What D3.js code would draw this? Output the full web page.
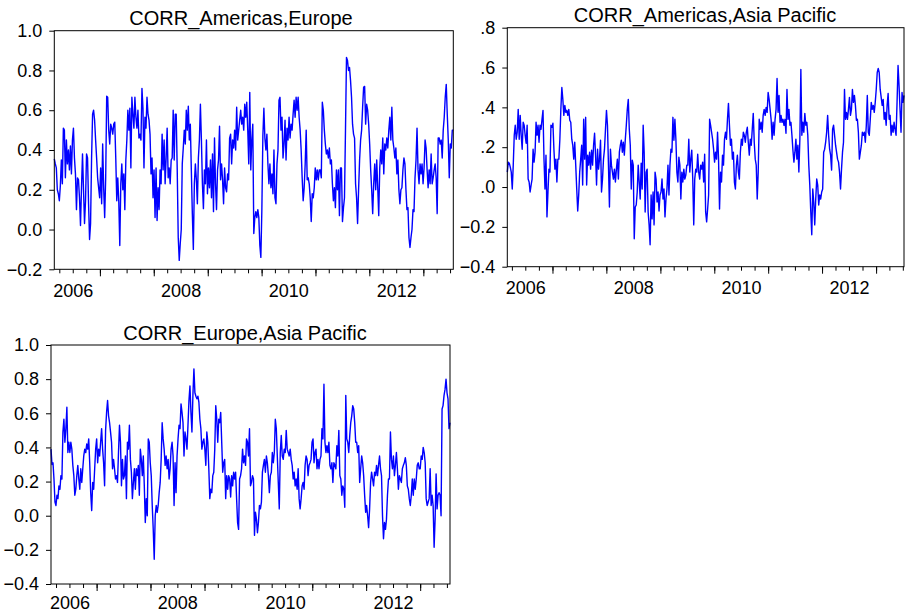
<!DOCTYPE html>
<html>
<head>
<meta charset="utf-8">
<script src="https://cdn.jsdelivr.net/npm/d3@7"></script>
<style>
  html, body { margin: 0; padding: 0; background: #fff; }
  svg { display: block; font-family: "Liberation Sans", Arial, sans-serif; }
  .axis text { font-size: 18px; fill: #000; }
  .axis line { stroke: #000; }
  .title { font-size: 20px; fill: #000; text-anchor: middle; }
</style>
</head>
<body>
<svg id="chart" width="905" height="613"></svg>
<script>
// weekly correlation series (left to right)
const corrAmericasEurope = [
  0.355,0.33,0.31,0.20,0.18,0.145,0.22,0.35,0.23,0.51,0.50,0.26,0.45,0.33,0.40,0.30,0.42,0.28,0.45,0.51,
  0.36,0.28,0.10,0.26,0.25,0.16,0.02,0.21,0.38,0.20,0.03,0.145,0.38,0.36,0.13,-0.05,0.03,0.36,0.58,0.60,
  0.55,0.45,0.36,0.26,0.21,0.16,0.31,0.13,0.43,0.21,0.06,0.26,0.67,0.665,0.50,0.43,0.53,0.51,0.48,0.53,
  0.54,0.36,0.145,0.26,0.14,-0.08,0.23,0.33,0.20,0.28,0.10,0.35,0.45,0.60,0.50,0.61,0.31,0.665,0.58,0.51,
  0.665,0.565,0.51,0.60,0.46,0.48,0.45,0.71,0.61,0.31,0.565,0.51,0.665,0.58,0.55,0.48,0.28,0.36,0.16,0.30,
  0.06,0.31,0.045,0.21,0.10,0.30,0.23,0.48,0.30,0.45,0.23,0.36,0.51,0.26,0.31,0.23,0.35,0.36,0.60,0.35,
  0.58,0.58,0.30,-0.04,-0.155,-0.07,0.0,0.33,0.41,
  0.50,0.43,0.60,0.50,0.62,0.45,0.53,0.30,0.08,-0.10,0.23,0.33,0.25,0.13,0.36,0.45,0.63,0.45,0.23,0.105,
  0.30,0.23,0.45,0.18,0.31,0.21,0.35,0.16,0.38,0.09,0.46,0.23,0.10,0.30,0.35,0.52,0.25,0.33,0.25,0.13,
  0.31,0.21,0.19,0.28,0.25,0.46,0.48,0.33,0.45,0.41,0.50,0.40,0.615,0.45,0.50,0.55,0.60,0.53,0.565,0.50,
  0.63,0.565,0.64,0.50,0.33,0.69,0.30,0.45,0.53,-0.02,0.06,0.09,0.06,0.10,0.06,-0.08,-0.14,0.10,0.47,0.61,
  0.46,0.40,0.48,0.33,0.23,0.33,0.21,0.28,0.18,0.40,0.16,0.13,0.33,0.40,0.65,0.665,0.50,0.565,0.36,0.43,
  0.55,0.35,0.51,0.45,0.565,0.46,0.53,0.50,0.58,0.65,0.565,0.665,0.60,0.665,0.565,0.50,0.40,0.26,0.145,0.21,
  0.33,0.50,0.25,0.26,0.23,0.16,0.04,0.18,0.16,0.21,0.31,0.25,0.30,0.25,0.30,
  0.30,0.26,0.64,0.60,0.50,0.43,0.38,0.40,0.36,0.41,0.33,0.35,0.23,0.145,0.21,0.11,0.30,0.20,0.30,0.07,
  0.31,0.31,0.04,0.11,0.16,0.50,0.866,0.85,0.80,0.815,0.75,0.665,0.53,0.48,0.46,0.23,0.16,0.03,0.20,0.35,
  0.45,0.50,0.615,0.715,0.72,0.53,0.63,0.60,0.53,0.43,0.30,0.20,0.08,0.23,0.33,0.20,0.35,0.21,0.07,0.31,
  0.40,0.33,0.46,0.28,0.43,0.40,0.46,0.41,0.50,0.565,0.45,0.615,0.45,0.41,0.36,0.41,0.28,0.35,0.20,0.13,
  0.20,0.21,0.30,0.36,0.33,0.20,0.10,0.11,-0.04,-0.09,-0.04,0.0,0.10,0.09,0.26,0.35,0.51,0.30,0.23,0.33,
  0.28,0.33,0.23,0.31,0.45,0.41,0.30,0.21,0.30,0.23,0.38,0.23,0.26,0.30,0.33,0.26,0.08,0.46,0.46,0.43,
  0.45,0.36,0.50,0.565,0.665,0.73,0.58,0.45,0.26,0.43,0.41,0.50,0.50
];

const corrAmericasAsiaPacific = [
  0.075,0.125,0.12,0.10,0.075,-0.01,0.11,0.26,0.31,0.24,0.275,0.39,0.24,0.36,0.26,0.19,0.325,0.31,0.26,0.22,
  0.31,0.04,0.025,-0.025,0.01,0.04,0.19,0.125,0.175,0.325,0.26,0.31,0.225,0.31,0.29,0.34,0.385,0.14,-0.01,0.16,
  -0.15,-0.025,0.09,0.075,0.31,0.30,0.32,0.19,0.09,0.14,0.025,0.14,0.14,0.24,0.39,0.50,0.44,0.36,0.41,0.375,
  0.385,0.36,0.39,0.335,0.325,0.24,0.21,0.14,0.225,0.11,-0.01,-0.12,-0.04,0.075,0.14,0.21,0.01,0.34,0.14,0.35,
  0.01,0.16,0.11,0.175,0.09,0.185,0.11,0.21,0.27,0.16,0.01,0.19,0.09,0.14,0.235,-0.025,0.04,0.14,0.19,0.29,
  0.385,0.31,0.11,-0.10,0.19,0.11,0.075,0.04,0.09,0.025,0.09,0.14,0.04,0.175,0.21,0.235,0.175,0.225,0.16,0.24,
  0.31,0.39,0.44,0.29,0.21,-0.01,0.135,0.11,-0.26,-0.10,-0.09,-0.025,0.11,0.025,
  -0.06,0.12,-0.01,0.31,0.175,-0.125,0.075,0.09,-0.125,-0.19,-0.29,-0.04,-0.16,-0.025,-0.19,0.075,0.04,-0.075,-0.025,-0.12,
  -0.04,-0.025,0.04,-0.06,-0.01,-0.15,-0.06,-0.01,0.11,-0.04,0.11,0.19,0.175,0.35,0.235,0.34,0.24,0.075,0.025,0.15,
  0.11,-0.06,0.075,0.025,0.09,0.04,0.06,0.11,0.11,0.24,0.075,0.14,0.185,0.04,-0.19,0.04,0.09,0.075,0.165,0.075,
  0.04,0.11,0.09,0.125,0.025,0.165,-0.125,-0.175,-0.11,-0.04,0.34,0.31,0.275,0.24,0.19,0.125,0.175,0.14,0.275,0.14,
  -0.11,0.075,0.025,0.16,0.11,0.24,0.275,0.24,0.34,0.42,0.31,0.21,0.24,0.14,0.175,0.025,-0.01,0.11,0.16,0.075,
  0.04,0.175,0.24,0.21,0.275,0.26,0.225,0.275,0.30,0.225,0.16,0.24,0.21,0.29,0.37,0.225,0.14,0.11,-0.06,0.075,
  0.34,0.29,0.325,0.275,0.36,0.39,0.36,0.40,0.375,0.475,0.44,0.39,0.34,0.24,0.325,0.26,
  0.34,0.39,0.545,0.375,0.46,0.325,0.36,0.325,0.34,0.31,0.34,0.27,0.49,0.34,0.39,0.31,0.325,0.26,0.185,0.125,
  0.175,0.24,0.14,0.21,0.075,0.24,0.59,0.26,0.325,0.275,0.37,0.31,0.325,0.26,0.11,0.01,-0.125,-0.24,-0.01,-0.075,
  -0.19,-0.06,0.04,0.01,-0.09,-0.04,-0.06,-0.025,-0.01,0.175,0.19,0.225,0.275,0.36,0.26,0.19,0.16,0.085,0.29,0.31,
  0.26,0.21,0.175,0.14,0.125,0.075,-0.01,0.09,0.175,0.225,0.49,0.34,0.375,0.34,0.39,0.45,0.36,0.39,0.49,0.425,
  0.46,0.41,0.335,0.34,0.275,0.14,0.175,0.21,0.275,0.26,0.275,0.225,0.31,0.46,0.275,0.26,0.34,0.425,0.39,0.41,
  0.375,0.425,0.49,0.575,0.595,0.575,0.49,0.45,0.41,0.44,0.34,0.375,0.31,0.41,0.47,0.34,0.36,0.26,0.31,0.275,
  0.325,0.29,0.26,0.425,0.61,0.51,0.39,0.275,0.475,0.425,0.46
];

const corrEuropeAsiaPacific = [
  0.39,0.30,0.31,0.215,0.08,0.06,0.12,0.10,0.175,0.155,0.235,0.215,0.49,0.565,0.43,0.51,0.635,0.37,0.43,0.37,
  0.43,0.39,0.295,0.235,0.12,0.155,0.235,0.295,0.215,0.155,0.275,0.195,0.275,0.35,0.39,0.37,0.42,0.39,0.45,0.31,
  0.135,0.03,0.195,0.155,0.275,0.39,0.45,0.31,0.39,0.35,0.43,0.51,0.39,0.31,0.175,0.50,0.605,0.675,0.585,0.545,
  0.49,0.43,0.275,0.33,0.275,0.215,0.235,0.195,0.37,0.53,0.43,0.175,0.33,0.215,0.235,0.35,0.10,0.43,0.39,0.53,
  0.33,0.255,0.10,0.195,0.275,0.155,0.275,0.235,0.295,0.12,0.39,0.33,0.235,0.35,0.175,-0.04,0.10,0.0,0.45,0.43,
  0.31,0.235,0.06,-0.08,-0.255,0.0,0.06,0.02,0.06,0.135,0.195,0.33,0.545,0.45,0.39,0.295,0.35,0.275,0.33,0.215,
  0.275,0.39,0.43,0.35,0.06,0.31,0.135,0.35,0.45,0.53,0.51,0.655,0.605,0.545,0.35,
  0.49,0.45,0.39,0.53,0.675,0.76,0.605,0.49,0.71,0.86,0.72,0.70,0.685,0.70,0.665,0.565,0.51,0.39,0.43,0.45,
  0.39,0.295,0.49,0.43,0.275,0.10,0.155,0.135,0.235,0.255,0.39,0.645,0.565,0.43,0.565,0.545,0.605,0.43,0.255,0.31,
  0.33,0.10,0.235,0.155,0.235,0.215,0.11,0.235,0.175,0.255,0.215,0.255,0.10,-0.04,-0.08,0.215,0.235,0.275,0.39,0.31,
  0.35,0.295,0.45,0.43,0.35,0.51,0.175,0.195,0.235,0.215,-0.115,0.02,-0.02,-0.10,-0.04,0.06,0.04,0.08,0.255,0.295,
  0.33,0.255,0.35,0.31,0.235,0.135,0.235,0.255,0.37,0.31,0.37,0.565,0.51,0.35,0.195,0.04,0.37,0.47,0.35,0.33,
  0.39,0.37,0.50,0.39,0.37,0.35,0.39,0.33,0.295,0.215,0.255,0.175,0.215,0.155,0.275,0.10,0.04,0.10,0.175,0.195,
  0.155,0.295,0.35,0.33,0.235,0.295,0.31,0.33,0.43,0.45,0.31,0.37,0.39,0.275,0.33,
  0.275,0.33,0.35,0.51,0.45,0.77,0.43,0.37,0.41,0.37,0.43,0.295,0.275,0.31,0.195,0.31,0.295,0.275,0.41,0.35,
  0.50,0.235,0.215,0.12,0.175,0.155,0.05,0.705,0.45,0.43,0.37,0.47,0.545,0.585,0.645,0.625,0.545,0.43,0.43,0.37,
  0.41,0.195,0.275,0.35,0.31,0.235,0.12,0.02,0.06,0.0,-0.07,0.04,0.195,0.255,0.215,0.175,0.255,0.235,0.295,0.235,
  0.295,0.35,0.275,0.235,0.0,-0.135,-0.04,-0.08,-0.02,0.12,0.215,0.215,0.49,0.33,0.275,0.35,0.235,0.295,0.37,0.275,
  0.155,0.235,0.215,0.195,0.275,0.295,0.31,0.34,0.295,0.175,0.155,0.10,0.06,0.12,0.215,0.12,0.215,0.155,0.215,0.295,
  0.31,0.275,0.275,0.35,0.33,0.40,0.37,0.31,0.10,0.06,0.08,0.10,0.275,0.06,0.12,0.06,-0.185,-0.02,0.245,0.04,
  0.12,0.135,0.12,0.0,0.625,0.645,0.705,0.74,0.80,0.72,0.685,0.51,0.545
];

const titles = ["CORR_Americas,Europe", "CORR_Americas,Asia Pacific", "CORR_Europe,Asia Pacific"];
const yearLabels = [2006, 2008, 2010, 2012];
const ticksAE = [-0.2, 0.0, 0.2, 0.4, 0.6, 0.8, 1.0];
const ticksAAP = [-0.4, -0.2, 0.0, 0.2, 0.4, 0.6, 0.8];
const ticksEAP = [-0.4, -0.2, 0.0, 0.2, 0.4, 0.6, 0.8, 1.0];

const fmtLead = d3.format(".1f");
const fmtNoLead = v => fmtLead(v).replace(/^(-?)0\./, "$1.");

const panels = [
  { values: corrAmericasEurope, title: titles[0], ticks: ticksAE, fmt: fmtLead,
    left: 54.3, top: 30.7, width: 399, height: 238.6, titleX: 241, labelPad: 14.5,
    start: new Date(2006, 1, 26), end: new Date(2013, 6, 23) },
  { values: corrAmericasAsiaPacific, title: titles[1], ticks: ticksAAP, fmt: fmtNoLead,
    left: 507.3, top: 27.7, width: 396.7, height: 239, titleX: 705, labelPad: 14.5,
    start: new Date(2006, 2, 1), end: new Date(2013, 6, 9) },
  { values: corrEuropeAsiaPacific, title: titles[2], ticks: ticksEAP, fmt: fmtLead,
    left: 51, top: 345, width: 399, height: 239, titleX: 245, labelPad: 12,
    start: new Date(2006, 1, 26), end: new Date(2013, 6, 22) }
];

const svg = d3.select("#chart");

panels.forEach(p => {
  const n = p.values.length;
  const step = (p.end - p.start) / (n - 1);
  const data = p.values.map((v, i) => ({ date: new Date(+p.start + i * step), value: v }));

  const x = d3.scaleTime().domain([p.start, p.end]).range([0, p.width]);
  const y = d3.scaleLinear()
    .domain(d3.extent(p.ticks))
    .range([p.height, 0]);

  const g = svg.append("g").attr("transform", `translate(${p.left},${p.top})`);

  // y axis
  g.append("g")
    .attr("class", "axis")
    .call(d3.axisLeft(y).tickValues(p.ticks).tickFormat(p.fmt).tickSize(5).tickPadding(7))
    .call(a => a.select(".domain").remove());

  // quarterly minor ticks, yearly major ticks
  g.append("g")
    .attr("class", "axis")
    .attr("transform", `translate(0,${p.height})`)
    .call(d3.axisBottom(x).ticks(d3.timeMonth.every(3)).tickSize(4).tickFormat(""))
    .call(a => a.select(".domain").remove());
  g.append("g")
    .attr("class", "axis")
    .attr("transform", `translate(0,${p.height})`)
    .call(d3.axisBottom(x).ticks(d3.timeYear).tickSize(7).tickFormat(""))
    .call(a => a.select(".domain").remove());

  // year labels sit mid-year
  g.append("g")
    .attr("class", "axis")
    .attr("transform", `translate(0,${p.height})`)
    .call(d3.axisBottom(x)
      .tickValues(yearLabels.map(yr => new Date(yr, 6, 1)))
      .tickFormat(d3.timeFormat("%Y"))
      .tickSize(0)
      .tickPadding(p.labelPad))
    .call(a => a.select(".domain").remove());

  const line = d3.line()
    .x(d => x(d.date))
    .y(d => y(d.value));

  g.append("path")
    .datum(data)
    .attr("fill", "none")
    .attr("stroke", "#0000ff")
    .attr("stroke-width", 1.4)
    .attr("stroke-linejoin", "round")
    .attr("d", line);

  g.append("rect")
    .attr("width", p.width)
    .attr("height", p.height)
    .attr("fill", "none")
    .attr("stroke", "#000")
    .attr("stroke-width", 1);

  svg.append("text")
    .attr("class", "title")
    .attr("x", p.titleX)
    .attr("y", p.top - 5.5)
    .text(p.title);
});
</script>
</body>
</html>
